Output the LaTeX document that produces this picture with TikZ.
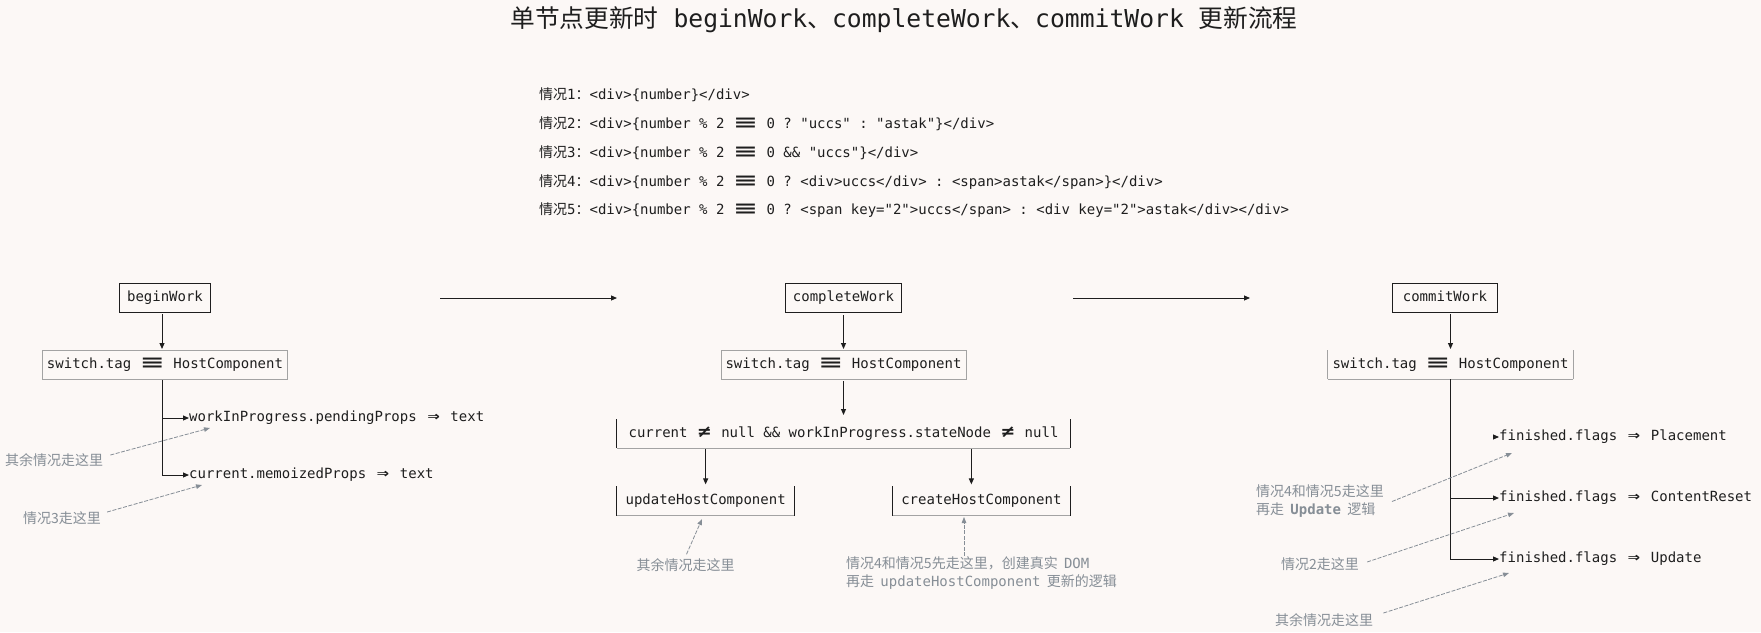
\documentclass[tikz,border=0pt]{standalone}
\usepackage{fontspec}
\setmainfont{Noto Sans CJK SC}
\setmonofont{DejaVu Sans Mono}
\newfontfamily\cjk{Noto Sans CJK SC}
\usetikzlibrary{arrows.meta,positioning}

\definecolor{paper}{HTML}{FCF8F6}
\definecolor{ink}{HTML}{1E1E1E}
\definecolor{rim}{HTML}{A3A3A3}
\definecolor{note}{HTML}{868E96}

% ligature-like operators, as wide as the characters they replace
\newcommand\teq{\setbox0\hbox{000}\makebox[\wd0]{\scalebox{2.6}[1.25]{\bfseries ≡}}}
\newcommand\impl{\setbox0\hbox{00}\makebox[\wd0]{\scalebox{1.45}[1.15]{\bfseries ⇒}}}
\newcommand\neql{\setbox0\hbox{00}\makebox[\wd0]{\scalebox{1.5}[1.2]{\bfseries ≠}}}

\begin{document}
\begin{tikzpicture}[
    x=1pt, y=-1pt,
    node distance=38pt,
    code/.style={font=\ttfamily\fontsize{14}{17}\selectfont, text=ink, inner sep=0pt, text height=10.5pt, text depth=3pt},
    block/.style={code, draw=ink, line width=1pt, minimum height=29pt, inner xsep=8pt},
    gbox/.style={code, draw=rim, line width=1pt, minimum height=29pt, inner xsep=4.5pt},
    openbox/.style 2 args={code, minimum height=29pt, inner xsep=8.5pt,
        append after command={
            (\tikzlastnode.north west) edge[draw=#1, line width=1pt] (\tikzlastnode.south west)
            (\tikzlastnode.north east) edge[draw=#1, line width=1pt] (\tikzlastnode.south east)
            (\tikzlastnode.south west) edge[draw=#2, line width=1pt] (\tikzlastnode.south east)}},
    note/.style={font=\cjk\fontsize{14}{18}\selectfont, text=note, inner sep=0pt, align=left},
    arr/.style={-{Triangle[length=6pt,width=5pt]}, draw=ink, line width=1pt},
    hint/.style={-{Triangle[length=6pt,width=4.5pt]}, draw=note, line width=0.8pt, dash pattern=on 4pt off 1.5pt}
]
\fill[paper] (0,0) rectangle (1761,632);
\useasboundingbox (0,0) rectangle (1761,632);

\node[font=\ttfamily\fontsize{24.7}{29}\selectfont, text=ink] (title) at (904,20)
    {{\cjk 单节点更新时}\ beginWork{\cjk 、}completeWork{\cjk 、}commitWork\ {\cjk 更新流程}};

% the five cases
\node[code, anchor=west] (case1) at (539,95.5) {{\cjk 情况}1{\cjk ：}<div>\{number\}</div>};
\node[code, anchor=west] (case2) at (539,124.7) {{\cjk 情况}2{\cjk ：}<div>\{number \% 2 \teq{} 0 ? "uccs" : "astak"\}</div>};
\node[code, anchor=west] (case3) at (539,153.9) {{\cjk 情况}3{\cjk ：}<div>\{number \% 2 \teq{} 0 \&\& "uccs"\}</div>};
\node[code, anchor=west] (case4) at (539,182.5) {{\cjk 情况}4{\cjk ：}<div>\{number \% 2 \teq{} 0 ? <div>uccs</div> : <span>astak</span>\}</div>};
\node[code, anchor=west] (case5) at (539,211) {{\cjk 情况}5{\cjk ：}<div>\{number \% 2 \teq{} 0 ? <span key="2">uccs</span> : <div key="2">astak</div></div>};

% phases
\node[block] (bw) at (165,298) {beginWork};
\node[block, inner xsep=7pt] (cw) at (843.5,298) {completeWork};
\node[block, inner xsep=10pt] (mw) at (1445,298) {commitWork};

\coordinate (go1) at (440,298);
\coordinate (to1) at (617,298);
\coordinate (go2) at (1073,298);
\coordinate (to2) at (1250,298);
\draw[arr] (go1) -- (to1);
\draw[arr] (go2) -- (to2);

% beginWork
\node[gbox, below=37pt of bw] (sw1) {switch.tag \teq{} HostComponent};
\node[code, anchor=west] (wip) at (189,418) {workInProgress.pendingProps \impl{} text};
\node[code, anchor=west] (cur) at (189,475) {current.memoizedProps \impl{} text};
\draw[arr, shorten <=1pt, shorten >=1pt] (bw.south -| 162,0) -- (sw1.north -| 162,0);
\draw[arr] (sw1.south -| 162,0) |- (wip.west);
\draw[arr] (sw1.south -| 162,0) |- (cur.west);

\node[note, anchor=west] (n1) at (5,460) {其余情况走这里};
\node[note, anchor=west] (n2) at (23,518) {情况3走这里};
\coordinate (t1) at (210,428);
\coordinate (t2) at (202,485);
\draw[hint] ([shift={(7,-5)}]n1.east) -- (t1);
\draw[hint] ([shift={(6,-6)}]n2.east) -- (t2);

% completeWork
\node[gbox, below=37pt of cw] (sw2) {switch.tag \teq{} HostComponent};
\node[openbox={ink}{rim}, inner xsep=11.5pt, below=39pt of sw2] (cond)
    {current \neql{} null \&\& workInProgress.stateNode \neql{} null};
\node[openbox={ink}{rim}, below right=38pt and 0pt of cond.south west] (upd) {updateHostComponent};
\node[openbox={ink}{rim}, below left=38pt and 0pt of cond.south east] (crt) {createHostComponent};
\draw[arr, shorten <=2pt, shorten >=1pt] (cw.south) -- (sw2.north);
\draw[arr, shorten <=1pt, shorten >=4pt] (sw2.south) -- (cond.north);
\draw[arr, shorten <=1pt, shorten >=2pt] (upd.north |- cond.south) -- (upd.north);
\draw[arr, shorten <=1pt, shorten >=2pt] ([xshift=-10pt]crt.north |- cond.south) -- ([xshift=-10pt]crt.north);

\node[note] (n3) at (685.5,565) {其余情况走这里};
\node[note, anchor=north west] (n4) at (846,556)
    {情况4和情况5先走这里，创建真实\ \ \texttt{DOM}\\再走\ \ \texttt{updateHostComponent}\ \ 更新的逻辑};
\coordinate (t3) at (702,519);
\coordinate (t4) at (964,517);
\draw[hint] ([shift={(1,-4)}]n3.north) -- (t3);
\draw[hint] (n4.north -| t4) -- (t4);

% commitWork
\node[openbox={rim}{rim}, inner xsep=4.5pt, below=37pt of mw, xshift=5.5pt] (sw3) {switch.tag \teq{} HostComponent};
\node[code, anchor=west] (pl) at (1499,437) {finished.flags \impl{} Placement};
\node[code, anchor=west] (cr) at (1499,498) {finished.flags \impl{} ContentReset};
\node[code, anchor=west] (up) at (1499,559) {finished.flags \impl{} Update};
\draw[arr, shorten <=1pt, shorten >=1pt] (sw3.north |- mw.south) -- (sw3.north);
\draw[arr] ([xshift=-6pt]pl.west) -- (pl.west);
\draw[arr] (sw3.south) |- (cr.west);
\draw[arr] (sw3.south) |- (up.west);

\node[note, anchor=west] (n5) at (1256,501.5) {情况4和情况5走这里\\再走\ \ \texttt{\bfseries Update}\ \ 逻辑};
\node[note, anchor=west] (n6) at (1281,564) {情况2走这里};
\node[note, anchor=west] (n7) at (1275,620) {其余情况走这里};
\coordinate (t5) at (1512,453);
\coordinate (t6) at (1514,513);
\coordinate (t7) at (1509,573);
\draw[hint] ([shift={(8,0)}]n5.east) -- (t5);
\draw[hint] ([shift={(8,-2)}]n6.east) -- (t6);
\draw[hint] ([shift={(10,-7)}]n7.east) -- (t7);
\end{tikzpicture}
\end{document}
